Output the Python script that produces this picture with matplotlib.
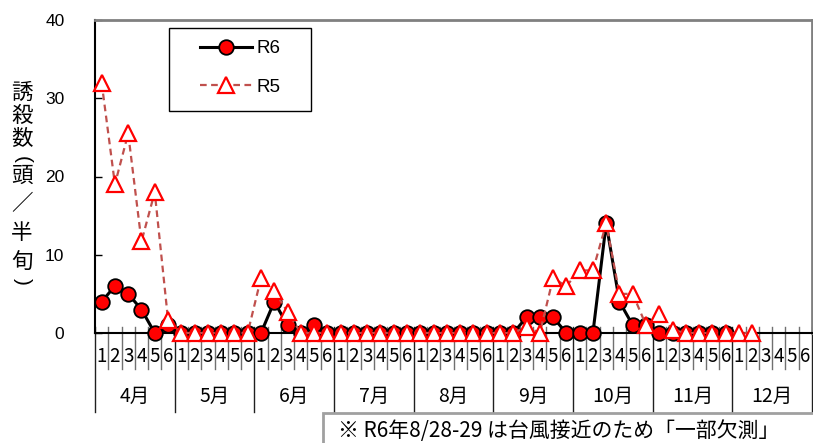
import numpy as np
import matplotlib
matplotlib.use("Agg")
import matplotlib.pyplot as plt
from matplotlib.patches import Rectangle

# ---- data ----
months = ['4月', '5月', '6月', '7月', '8月', '9月', '10月', '11月', '12月']
halves = ['1', '2', '3', '4', '5', '6']
r6 = [4, 6, 5, 3, 0, 1,
      0, 0, 0, 0, 0, 0,
      0, 4, 1, 0, 1, 0,
      0, 0, 0, 0, 0, 0,
      0, 0, 0, 0, 0, 0,
      0, 0, 2, 2, 2, 0,
      0, 0, 14, 4, 1, 1,
      0, 0, 0, 0, 0, 0,
      None, None, None, None, None, None]
r5 = [32, 19, 25.5, 11.7, 18, 1.7,
      0, 0, 0, 0, 0, 0,
      7, 5.4, 2.7, 0, 0, 0,
      0, 0, 0, 0, 0, 0,
      0, 0, 0, 0, 0, 0,
      0, 0, 0.8, 0, 7, 6,
      8, 8, 14, 5, 5, 1,
      2.4, 0.4, 0, 0, 0, 0,
      0, 0, None, None, None, None]
yticks = [0, 10, 20, 30, 40]
ylabel_chars = ['誘', '殺', '数', '(', '頭', '／', '半', '旬', ')']
note = '※ R6年8/28-29 は台風接近のため「一部欠測」'

JP = ['Noto Sans CJK JP', 'DejaVu Sans']
LAT = ['Liberation Sans', 'DejaVu Sans']

W, H = 813, 443
fig = plt.figure(figsize=(W / 100, H / 100), dpi=100)
ax_l, ax_r, ax_t, ax_b = 95, 812, 20, 333
ax = fig.add_axes([ax_l / W, 1 - ax_b / H, (ax_r - ax_l) / W, (ax_b - ax_t) / H])
axh = ax_b - ax_t
axw = ax_r - ax_l

n = len(months) * len(halves)
x = np.arange(n)
y6 = np.array(r6, dtype=float)
y5 = np.array(r5, dtype=float)

ax.plot(x, y6, color='black', lw=2.2, marker='o', ms=10.5, mfc='red', mec='black',
        mew=1.3, zorder=3, clip_on=False, label='R6')
ax.plot(x, y5, color='#C0504D', lw=1.6, ls=(0, (3, 2)), marker='^', ms=11,
        mfc='white', mec='red', mew=1.6, zorder=4, clip_on=False, label='R5')

ax.set_xlim(-0.5, n - 0.5)
ax.set_ylim(0, 40)
ax.set_yticks(yticks)
ax.set_yticklabels([str(v) for v in yticks], fontfamily=LAT, fontsize=12.5)
ax.tick_params(axis='y', direction='in', length=5, width=1, pad=22, colors='black')
ax.set_xticks([])

for s in ['top', 'right']:
    ax.spines[s].set_color('#808080')
    ax.spines[s].set_linewidth(2)
for s in ['left', 'bottom']:
    ax.spines[s].set_color('black')
    ax.spines[s].set_linewidth(1.5)

# category table below axis
tr = ax.get_xaxis_transform()
up = 6 / axh
for k in range(n + 1):
    xb = k - 0.5
    if k % len(halves) == 0:
        ax.plot([xb, xb], [up, -(412 - ax_b) / axh], color='#202020', lw=1,
                transform=tr, clip_on=False, zorder=1)
    else:
        ax.plot([xb, xb], [up, -(369 - ax_b) / axh], color='#707070', lw=1,
                transform=tr, clip_on=False, zorder=1)

for i in range(n):
    ax.text(x[i], -(357 - ax_b) / axh, halves[i % len(halves)], transform=tr,
            ha='center', va='center', fontsize=13.5, fontfamily=JP)
for m, name in enumerate(months):
    cx = m * len(halves) + (len(halves) - 1) / 2
    ax.text(cx, -(396 - ax_b) / axh, name, transform=tr, ha='center',
            va='center', fontsize=14, fontfamily=JP)

# legend (frame drawn separately to match the reference box)
fs = 13.5
leg = ax.legend(loc='upper left',
                bbox_to_anchor=((200 - ax_l) / axw, (ax_b - 40) / axh),
                frameon=False, handlelength=52 / (fs * 100 / 72),
                handletextpad=0.25, labelspacing=1.15, borderpad=0,
                borderaxespad=0, prop={'family': LAT, 'size': fs})
ax.add_patch(Rectangle(((169 - ax_l) / axw, (ax_b - 111) / axh),
                       (311 - 169) / axw, (111 - 28) / axh,
                       transform=ax.transAxes, fill=False, edgecolor='black',
                       lw=1, zorder=5, clip_on=False))

# vertical y label (parentheses turned for vertical writing)
centers = [93, 116, 139, 160, 176, 204, 233, 262, 281]
for ch, cy in zip(ylabel_chars, centers):
    if ch in '()':
        fig.text(22 / W, 1 - cy / H, ch, ha='center', va='center', rotation=-90,
                 fontsize=15, fontfamily=LAT)
    else:
        fig.text(22 / W, 1 - cy / H, ch, ha='center', va='center',
                 fontsize=15.5, fontfamily=JP)

# note box
fig.patches.append(Rectangle((323 / W, 1 - 446 / H), (820 - 323) / W, (446 - 413) / H,
                             transform=fig.transFigure, fill=False,
                             edgecolor='#A0A0A0', lw=2))
fig.text(338 / W, 1 - 431 / H, note, ha='left', va='center', fontsize=15,
         fontfamily=JP)

fig.savefig('out.png', dpi=100)
